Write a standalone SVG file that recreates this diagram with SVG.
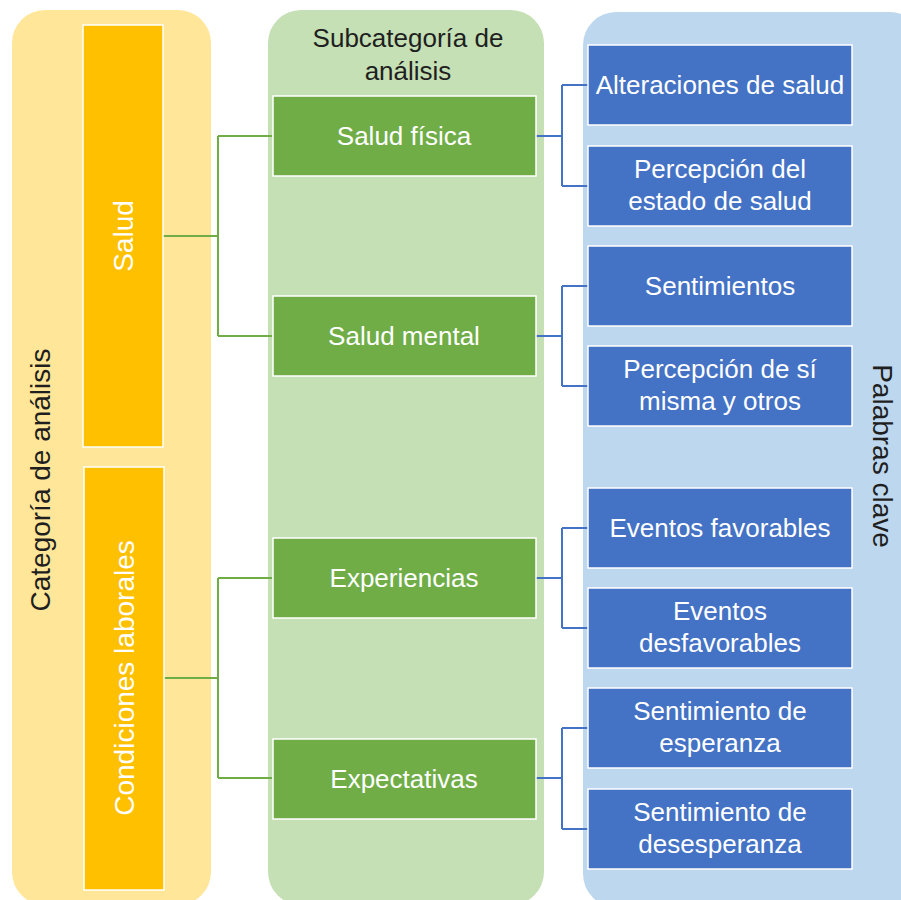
<svg xmlns="http://www.w3.org/2000/svg" width="901" height="900" viewBox="0 0 901 900">
<style>
text{font-family:"Liberation Sans","Noto Sans",sans-serif;font-size:26px;text-anchor:middle;dominant-baseline:central}
.big{font-size:28px}
.w{fill:#ffffff}
.d{fill:#1f1f1f}
.gbox{fill:#70AD47;stroke:#ffffff;stroke-width:1.5}
.bbox{fill:#4472C4;stroke:#ffffff;stroke-width:1.5}
.ybox{fill:#FFC000;stroke:#ffffff;stroke-width:1.5}
.gl{fill:none;stroke:#70AD47;stroke-width:2}
.bl{fill:none;stroke:#4472C4;stroke-width:2}
</style>
<rect width="901" height="900" fill="#ffffff"/>
<g id="bg-categoria">
<rect x="12" y="10" width="199" height="895" rx="33" fill="#FFE699"/>
<text class="d big" transform="translate(40,480) rotate(-90)">Categoría de análisis</text>
</g>
<g id="bg-subcategoria">
<rect x="268" y="10" width="276" height="895" rx="33" fill="#C5E0B4"/>
<text class="d" x="408" y="38">Subcategoría de</text>
<text class="d" x="408" y="71">análisis</text>
</g>
<g id="bg-palabras">
<rect x="583" y="12" width="340" height="895" rx="33" fill="#BDD7EE"/>
<text class="d big" transform="translate(882,456) rotate(90)">Palabras clave</text>
</g>
<g id="connectors">
<path class="gl" d="M163 236 H218 M218 136 V336 M218 136 H272 M218 336 H272"/>
<path class="gl" d="M164 678 H218 M218 578 V778 M218 578 H272 M218 778 H272"/>
<path class="bl" d="M536 136 H562 M562 85 V186 M562 85 H588 M562 186 H588"/>
<path class="bl" d="M536 336 H562 M562 286 V386 M562 286 H588 M562 386 H588"/>
<path class="bl" d="M536 578 H562 M562 528 V628 M562 528 H588 M562 628 H588"/>
<path class="bl" d="M536 778 H562 M562 728 V829 M562 728 H588 M562 829 H588"/>
</g>
<g id="salud">
<rect class="ybox" x="83" y="25" width="80" height="422"/>
<text class="w big" transform="translate(123,236) rotate(-90)">Salud</text>
</g>
<g id="condiciones">
<rect class="ybox" x="84" y="467" width="80" height="423"/>
<text class="w big" transform="translate(124,678) rotate(-90)">Condiciones laborales</text>
</g>
<g id="salud-fisica">
<rect class="gbox" x="273" y="96" width="263" height="80"/>
<text class="w" x="404" y="136">Salud física</text>
</g>
<g id="salud-mental">
<rect class="gbox" x="273" y="296" width="263" height="80"/>
<text class="w" x="404" y="336">Salud mental</text>
</g>
<g id="experiencias">
<rect class="gbox" x="273" y="538" width="263" height="80"/>
<text class="w" x="404" y="578">Experiencias</text>
</g>
<g id="expectativas">
<rect class="gbox" x="273" y="739" width="263" height="80"/>
<text class="w" x="404" y="779">Expectativas</text>
</g>
<g id="alteraciones">
<rect class="bbox" x="588" y="45" width="264" height="80"/>
<text class="w" x="720" y="85">Alteraciones de salud</text>
</g>
<g id="percepcion-estado">
<rect class="bbox" x="588" y="146" width="264" height="80"/>
<text class="w" x="720" y="169">Percepción del</text>
<text class="w" x="720" y="201">estado de salud</text>
</g>
<g id="sentimientos">
<rect class="bbox" x="588" y="246" width="264" height="80"/>
<text class="w" x="720" y="286">Sentimientos</text>
</g>
<g id="percepcion-si">
<rect class="bbox" x="588" y="346" width="264" height="80"/>
<text class="w" x="720" y="369">Percepción de sí</text>
<text class="w" x="720" y="401">misma y otros</text>
</g>
<g id="eventos-favorables">
<rect class="bbox" x="588" y="488" width="264" height="80"/>
<text class="w" x="720" y="528">Eventos favorables</text>
</g>
<g id="eventos-desfavorables">
<rect class="bbox" x="588" y="588" width="264" height="80"/>
<text class="w" x="720" y="611">Eventos</text>
<text class="w" x="720" y="643">desfavorables</text>
</g>
<g id="esperanza">
<rect class="bbox" x="588" y="688" width="264" height="80"/>
<text class="w" x="720" y="711">Sentimiento de</text>
<text class="w" x="720" y="743">esperanza</text>
</g>
<g id="desesperanza">
<rect class="bbox" x="588" y="789" width="264" height="80"/>
<text class="w" x="720" y="812">Sentimiento de</text>
<text class="w" x="720" y="844">desesperanza</text>
</g>
</svg>
